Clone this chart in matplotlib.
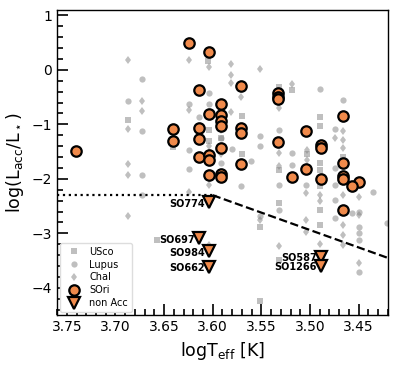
import matplotlib
matplotlib.use('Agg')
import matplotlib.pyplot as plt
from matplotlib.ticker import MultipleLocator

# comparison samples (grey)
usco_teff = [3.687, 3.605, 3.570, 3.641, 3.604, 3.591, 3.532, 3.519, 3.490, 3.490,
             3.503, 3.490, 3.490, 3.532, 3.532, 3.551, 3.532, 3.551, 3.657, 3.490,
             3.490, 3.490, 3.466, 3.570, 3.604]
usco_lacc = [-0.92, 0.17, -0.84, -1.42, -1.30, -1.25, -0.31, -0.37, -0.87, -1.03,
             -1.55, -1.71, -1.83, -1.83, -2.45, -2.88, -3.49, -4.25, -3.12, -2.14,
             -2.57, -2.84, -1.60, -1.55, -1.10]

lupus_teff = [3.687, 3.673, 3.673, 3.673, 3.673, 3.624, 3.624, 3.624, 3.614, 3.604,
              3.604, 3.580, 3.490, 3.466, 3.532, 3.551, 3.551, 3.474, 3.519, 3.519,
              3.561, 3.474, 3.571, 3.532, 3.532, 3.551, 3.504, 3.474, 3.474, 3.474,
              3.450, 3.450, 3.450, 3.450, 3.450, 3.435, 3.421, 3.457, 3.591, 3.591]
lupus_lacc = [-0.58, -0.17, -1.12, -1.93, -2.29, -0.62, -1.47, -1.82, -0.87, -0.43,
              -0.62, -1.46, -0.35, -0.55, -1.10, -1.21, -1.39, -1.09, -1.52, -1.74,
              -1.68, -1.80, -2.13, -2.11, -2.57, -2.69, -2.11, -2.11, -2.39, -2.72,
              -2.60, -2.88, -3.00, -3.12, -3.70, -2.25, -2.81, -2.63, -1.25, -1.70]

chai_teff = [3.687, 3.673, 3.673, 3.687, 3.687, 3.687, 3.687, 3.624, 3.624, 3.581,
             3.581, 3.581, 3.581, 3.551, 3.519, 3.532, 3.474, 3.466, 3.466, 3.466,
             3.532, 3.532, 3.503, 3.503, 3.624, 3.604, 3.604, 3.551, 3.532, 3.504,
             3.504, 3.504, 3.490, 3.490, 3.490, 3.466, 3.466, 3.466, 3.466, 3.450,
             3.450, 3.450, 3.591, 3.591, 3.604, 3.571, 3.604]
chai_lacc = [0.18, -0.57, -0.75, -1.09, -1.72, -1.93, -2.69, 0.18, -0.73, 0.10,
             -0.10, -0.24, -0.78, 0.01, -0.26, -0.70, -1.25, -1.13, -1.28, -1.44,
             -1.53, -1.77, -1.47, -1.65, -2.25, -2.11, -3.21, -2.75, -3.23, -2.26,
             -2.75, -2.97, -2.29, -2.40, -3.20, -2.29, -2.84, -3.03, -3.21, -2.34,
             -2.66, -3.54, -1.10, -1.55, -1.40, -0.50, 0.05]

# sigma Ori accretors
sori_teff = [3.741, 3.624, 3.604, 3.614, 3.571, 3.591, 3.604, 3.591, 3.591, 3.591,
             3.641, 3.641, 3.614, 3.614, 3.571, 3.571, 3.591, 3.614, 3.604, 3.604,
             3.571, 3.604, 3.591, 3.591, 3.533, 3.533, 3.533, 3.533, 3.504, 3.489,
             3.489, 3.504, 3.466, 3.466, 3.466, 3.466, 3.450, 3.519, 3.489, 3.457,
             3.466]
sori_lacc = [-1.48, 0.50, 0.32, -0.37, -0.29, -0.62, -0.81, -0.83, -0.93, -1.03,
             -1.08, -1.30, -1.07, -1.26, -1.07, -1.16, -1.44, -1.60, -1.57, -1.66,
             -1.73, -1.93, -1.91, -1.96, -0.43, -0.49, -0.53, -1.33, -1.12, -1.37,
             -1.43, -1.82, -0.85, -1.71, -1.95, -2.01, -2.06, -1.97, -2.00, -2.14,
             -2.57]

# non accretors
nonacc_names = ['SO774', 'SO697', 'SO984', 'SO662', 'SO587', 'SO1266']
nonacc_teff = [3.604, 3.614, 3.604, 3.604, 3.489, 3.489]
nonacc_lacc = [-2.43, -3.09, -3.33, -3.61, -3.43, -3.59]

# chromospheric noise threshold
thr_flat_x = [3.76, 3.60]
thr_flat_y = [-2.30, -2.30]
thr_slope_x = [3.60, 3.42]
thr_slope_y = [-2.30, -3.45]

orange = '#f08a4b'

fig = plt.figure(figsize=(3.99, 3.66), dpi=100)
ax = fig.add_axes([0.143, 0.139, 0.829, 0.834])

ax.plot(usco_teff, usco_lacc, 's', color='grey', alpha=0.5, ms=4.5, mew=0, label='USco')
ax.plot(lupus_teff, lupus_lacc, 'o', color='grey', alpha=0.5, ms=4.5, mew=0, label='Lupus')
ax.plot(chai_teff, chai_lacc, 'd', color='grey', alpha=0.5, ms=4.5, mew=0, label='ChaI')

ax.plot(thr_flat_x, thr_flat_y, ':', color='k', lw=1.6)
ax.plot(thr_slope_x, thr_slope_y, '--', color='k', lw=1.6)

ax.plot(sori_teff, sori_lacc, 'o', color=orange, mec='k', mew=1.6, ms=7.5, label='SOri')
ax.plot(nonacc_teff, nonacc_lacc, 'v', color=orange, mec='k', mew=1.6, ms=8.5, label='non Acc')
for name, x, y in zip(nonacc_names, nonacc_teff, nonacc_lacc):
    ax.annotate(name, xy=(x, y), xytext=(-3, -1), textcoords='offset points',
                ha='right', va='center', fontsize=7, fontweight='bold')

ax.set_xlim(3.76, 3.42)
ax.set_ylim(-4.5, 1.1)
ax.set_xticks([3.75, 3.70, 3.65, 3.60, 3.55, 3.50, 3.45])
ax.set_xticklabels(['3.75', '3.70', '3.65', '3.60', '3.55', '3.50', '3.45'])
ax.xaxis.set_minor_locator(MultipleLocator(0.01))
ax.yaxis.set_minor_locator(MultipleLocator(0.2))
ax.tick_params(which='both', direction='in', top=False, right=False, width=1.2)
ax.tick_params(which='major', length=8, labelsize=10)
ax.tick_params(which='minor', length=4)
for sp in ax.spines.values():
    sp.set_linewidth(1.0)

ax.set_xlabel(r'logT$_{\rm eff}$ [K]', fontsize=12.5)
ax.set_ylabel(r'log(L$_{\rm acc}$/L$_\star$)', fontsize=12.5)

ax.legend(loc='lower left', fontsize=7, borderaxespad=0.3, labelspacing=0.3,
          handletextpad=0.6, framealpha=1, edgecolor='#dddddd')

fig.savefig('out.png', dpi=100)
